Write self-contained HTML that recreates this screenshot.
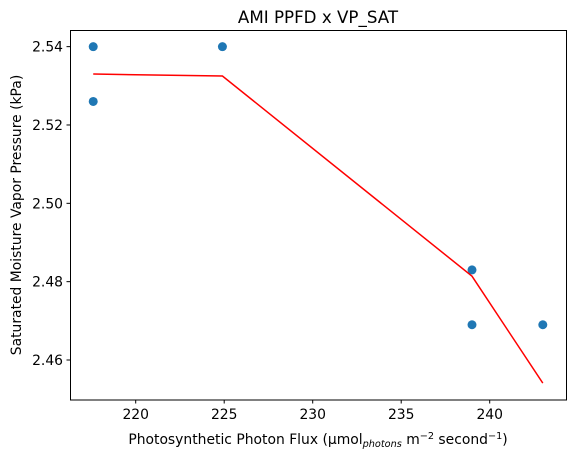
<!DOCTYPE html>
<html><head><meta charset="utf-8"><style>
body{margin:0;background:#fff;}
svg{display:block;font-family:"DejaVu Sans","Liberation Sans",sans-serif;}
</style></head><body>
<svg id="chart" width="576" height="462" viewBox="0 0 576 462" xmlns="http://www.w3.org/2000/svg">
<text x="318" y="23" text-anchor="middle" font-size="16.7">AMI PPFD x VP_SAT</text>
<g id="grid"></g>
<g id="marks"></g>
<rect x="70.5" y="30.5" width="496" height="369.5" fill="none" stroke="#000" stroke-width="1"/>
<text x="318" y="444" text-anchor="middle" font-size="13.9">Photosynthetic Photon Flux (μmol<tspan font-size="9.7" font-style="italic" dy="3">photons</tspan><tspan dy="-3"> m</tspan><tspan font-size="9.7" dy="-5">−2</tspan><tspan dy="5"> second</tspan><tspan font-size="9.7" dy="-5">−1</tspan><tspan dy="5">)</tspan></text>
<text transform="translate(21,215) rotate(-90)" text-anchor="middle" font-size="13.9">Saturated Moisture Vapor Pressure (kPa)</text>
</svg>
<script>
const xTicks=[220,225,230,235,240];
const yTicks=[2.46,2.48,2.50,2.52,2.54];
const yTickLabels=["2.46","2.48","2.50","2.52","2.54"];
const pointX=[217.6,217.6,224.9,239.0,239.0,243.0];
const pointY=[2.540,2.526,2.540,2.483,2.469,2.469];
const lineX=[217.6,224.9,239.0,243.0];
const lineY=[2.533,2.5325,2.4814,2.4541];
const ns="http://www.w3.org/2000/svg";
const sx=v=>135.7+(v-220)*17.7;
const sy=v=>360-(v-2.46)*3917;
const g=document.getElementById('grid'),m=document.getElementById('marks');
function mk(tag,attrs,parent){const e=document.createElementNS(ns,tag);for(const k in attrs)e.setAttribute(k,attrs[k]);parent.appendChild(e);return e;}
xTicks.forEach(t=>{const x=sx(t);
const l=mk('line',{x1:x,x2:x,y1:400,y2:403.5,stroke:'#000'},g);


const tx=mk('text',{x:x,y:419,'text-anchor':'middle','font-size':'13.9'},g);tx.textContent=t;

});
yTicks.forEach((t,i)=>{const y=sy(t);
const l=mk('line',{x1:66.5,x2:70.5,y1:y,y2:y,stroke:'#000'},g);


const tx=mk('text',{x:63,y:y+5,'text-anchor':'end','font-size':'13.9'},g);tx.textContent=yTickLabels[i];

});
pointX.forEach((v,i)=>{const c=mk('circle',{cx:sx(v),cy:sy(pointY[i]),r:4.5,fill:'#1f77b4'},m);

});
const p=mk('polyline',{points:lineX.map((v,i)=>sx(v)+','+sy(lineY[i])).join(' '),fill:'none',stroke:'#ff0000','stroke-width':1.5},m);


</script>
</body></html>
